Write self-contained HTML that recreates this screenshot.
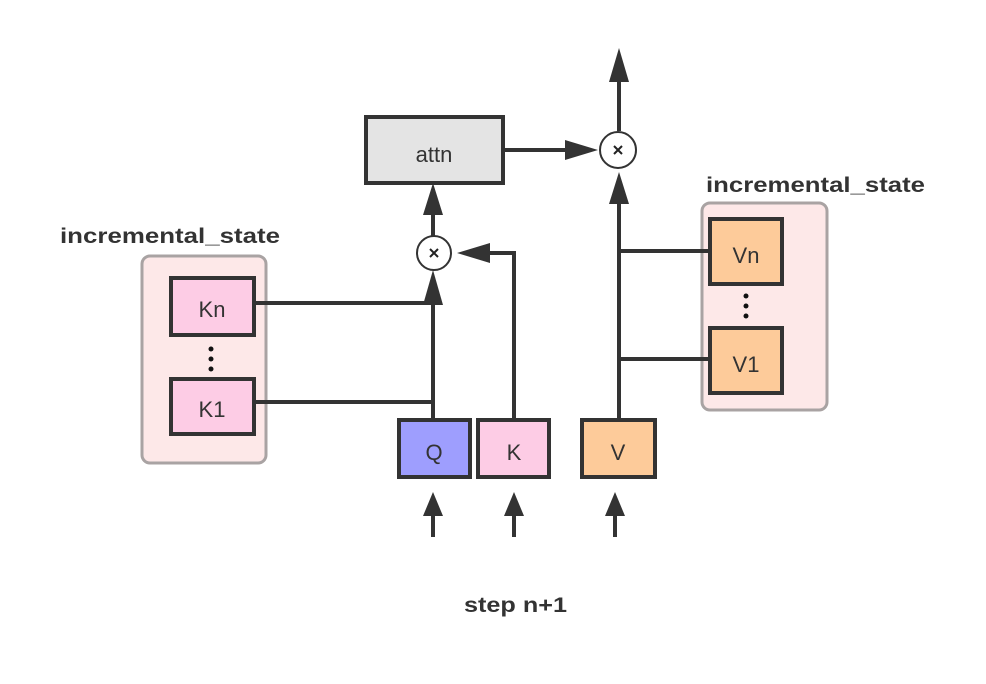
<!DOCTYPE html>
<html><head><style>body{margin:0;background:#fff}svg{display:block}</style></head><body>
<svg width="986" height="684" xmlns="http://www.w3.org/2000/svg" font-family="Liberation Sans, sans-serif">
<g fill="#333" stroke="none" font-weight="bold">
<text x="60" y="243" font-size="21" textLength="220" lengthAdjust="spacingAndGlyphs">incremental_state</text>
<text x="706" y="192" font-size="21" textLength="219" lengthAdjust="spacingAndGlyphs">incremental_state</text>
<text x="464" y="612" font-size="21" textLength="103" lengthAdjust="spacingAndGlyphs">step n+1</text>
</g>
<rect x="142" y="256" width="124" height="207" rx="8" fill="#fde8e8" stroke="#a9a3a3" stroke-width="3"/>
<rect x="702" y="203" width="125" height="207" rx="8" fill="#fde8e8" stroke="#a9a3a3" stroke-width="3"/>
<g stroke="#333" stroke-width="4">
<rect x="366" y="117" width="137" height="66" fill="#e4e4e4"/>
<rect x="171" y="278" width="83" height="57" fill="#fdcce5"/>
<rect x="171" y="379" width="83" height="55" fill="#fdcce5"/>
<rect x="399" y="420" width="71" height="57" fill="#9e9efe"/>
<rect x="478" y="420" width="71" height="57" fill="#fdcce5"/>
<rect x="582" y="420" width="73" height="57" fill="#fdcb9a"/>
<rect x="710" y="219" width="72" height="65" fill="#fdcb9a"/>
<rect x="710" y="328" width="72" height="65" fill="#fdcb9a"/>
</g>
<g fill="#333" font-size="22" text-anchor="middle">
<text x="434" y="162">attn</text>
<text x="212" y="317">Kn</text>
<text x="212" y="417">K1</text>
<text x="434" y="460">Q</text>
<text x="514" y="460">K</text>
<text x="618" y="460">V</text>
<text x="746" y="263">Vn</text>
<text x="746" y="372">V1</text>
</g>
<g fill="#111"><circle cx="211" cy="349" r="2.5"/><circle cx="211" cy="359" r="2.5"/><circle cx="211" cy="369" r="2.5"/>
<circle cx="746" cy="296" r="2.5"/><circle cx="746" cy="306" r="2.5"/><circle cx="746" cy="316" r="2.5"/></g>
<g stroke="#333" stroke-width="4" fill="none">
<line x1="254" y1="303" x2="433" y2="303"/>
<line x1="254" y1="402" x2="433" y2="402"/>
<line x1="433" y1="420" x2="433" y2="300"/>
<polyline points="514,420 514,253 488,253"/>
<line x1="433" y1="236" x2="433" y2="212"/>
<line x1="503" y1="150" x2="570" y2="150"/>
<line x1="619" y1="420" x2="619" y2="200"/>
<line x1="619" y1="251" x2="710" y2="251"/>
<line x1="619" y1="359" x2="710" y2="359"/>
<line x1="619" y1="131" x2="619" y2="78"/>
<line x1="433" y1="537" x2="433" y2="512"/>
<line x1="514" y1="537" x2="514" y2="512"/>
<line x1="615" y1="537" x2="615" y2="512"/>
</g>
<g fill="#333">
<polygon points="433,183 423,215 443,215"/>
<polygon points="433,270 423,305 443,305"/>
<polygon points="457,253 490,243 490,263"/>
<polygon points="598,150 565,140 565,160"/>
<polygon points="619,172 609,204 629,204"/>
<polygon points="619,48 609,82 629,82"/>
<polygon points="433,492 423,516 443,516"/>
<polygon points="514,492 504,516 524,516"/>
<polygon points="615,492 605,516 625,516"/>
</g>
<g stroke="#333" stroke-width="2" fill="#fff">
<circle cx="434" cy="253" r="17"/>
<circle cx="618" cy="150" r="18"/>
</g>
<g stroke="#222" stroke-width="2">
<path d="M430 249l8 8M438 249l-8 8"/>
<path d="M614 146l8 8M622 146l-8 8"/>
</g>
</svg>
</body></html>
